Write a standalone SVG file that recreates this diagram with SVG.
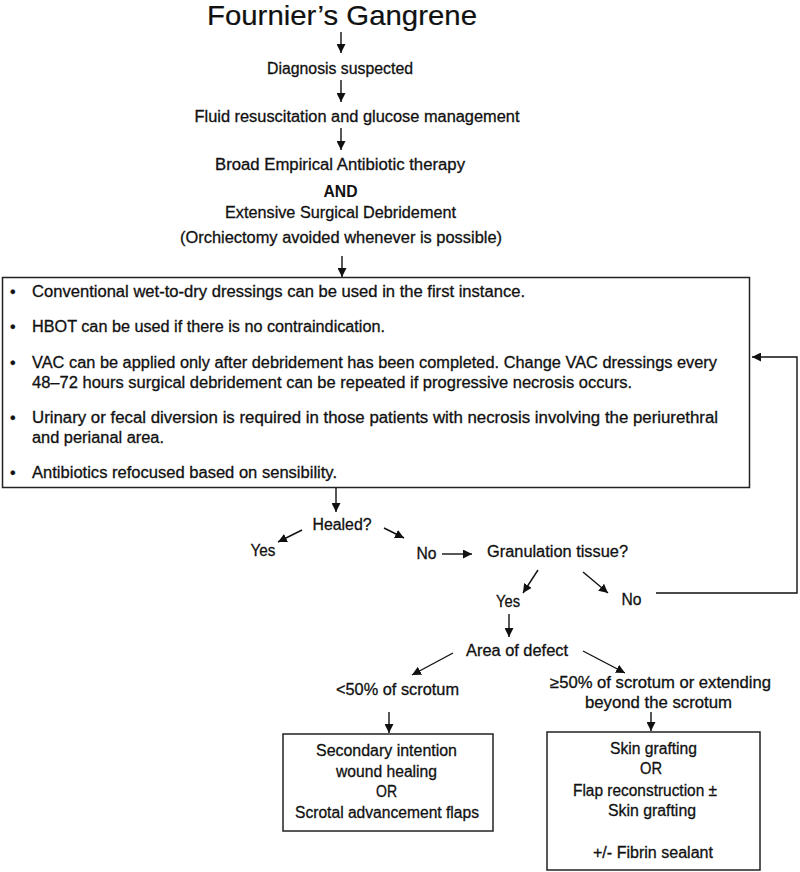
<svg xmlns="http://www.w3.org/2000/svg" width="800" height="872" viewBox="0 0 800 872">
<defs>
<marker id="ah" markerUnits="userSpaceOnUse" markerWidth="9" markerHeight="9" refX="9" refY="4.5" orient="auto" viewBox="0 0 9 9">
<path d="M0,0 L9,4.5 L0,9 z" fill="#111"/>
</marker>
<style>
text{font-family:"Liberation Sans",Arial,sans-serif;font-size:16px;fill:#111;stroke:#111;stroke-width:0.3;}
.c{text-anchor:middle;}
.t{font-size:28px;stroke-width:0.2;}
.b{font-weight:bold;stroke-width:0;}
.box{fill:#fff;stroke:#222;stroke-width:1.5;}
.cn line,.cn polyline{stroke:#111;stroke-width:1.4;fill:none;marker-end:url(#ah);}
</style>
</defs>
<rect width="800" height="872" fill="#fff"/>

<g id="title"><text class="c t" x="342" y="25" textLength="270" lengthAdjust="spacingAndGlyphs">Fournier’s Gangrene</text></g>
<g id="diagnosis"><text class="c" x="340" y="74" textLength="146" lengthAdjust="spacingAndGlyphs">Diagnosis suspected</text></g>
<g id="fluid"><text class="c" x="357" y="122" textLength="325" lengthAdjust="spacingAndGlyphs">Fluid resuscitation and glucose management</text></g>
<g id="treatment">
<text class="c" x="340" y="170" textLength="250" lengthAdjust="spacingAndGlyphs">Broad Empirical Antibiotic therapy</text>
<text class="c b" x="340.5" y="197" textLength="34" lengthAdjust="spacingAndGlyphs">AND</text>
<text class="c" x="340.5" y="218" textLength="231" lengthAdjust="spacingAndGlyphs">Extensive Surgical Debridement</text>
<text class="c" x="341" y="243" textLength="322" lengthAdjust="spacingAndGlyphs">(Orchiectomy avoided whenever is possible)</text>
</g>

<g id="care">
<rect class="box" x="2.5" y="277.5" width="747" height="210"/>
<text x="10" y="297">•</text>
<text x="32" y="297" textLength="493" lengthAdjust="spacingAndGlyphs">Conventional wet-to-dry dressings can be used in the first instance.</text>
<text x="10" y="332">•</text>
<text x="32" y="332" textLength="353" lengthAdjust="spacingAndGlyphs">HBOT can be used if there is no contraindication.</text>
<text x="10" y="368">•</text>
<text x="32" y="368" textLength="685" lengthAdjust="spacingAndGlyphs">VAC can be applied only after debridement has been completed. Change VAC dressings every</text>
<text x="32" y="388" textLength="600" lengthAdjust="spacingAndGlyphs">48–72 hours surgical debridement can be repeated if progressive necrosis occurs.</text>
<text x="10" y="423">•</text>
<text x="32" y="423" textLength="686" lengthAdjust="spacingAndGlyphs">Urinary or fecal diversion is required in those patients with necrosis involving the periurethral</text>
<text x="32" y="443" textLength="132" lengthAdjust="spacingAndGlyphs">and perianal area.</text>
<text x="10" y="478">•</text>
<text x="32" y="478" textLength="305" lengthAdjust="spacingAndGlyphs">Antibiotics refocused based on sensibility.</text>
</g>

<g id="healed"><text class="c" x="342" y="530" textLength="59" lengthAdjust="spacingAndGlyphs">Healed?</text></g>
<g id="healed-yes"><text class="c" x="263" y="556" textLength="25" lengthAdjust="spacingAndGlyphs">Yes</text></g>
<g id="healed-no"><text class="c" x="426.5" y="559" textLength="20" lengthAdjust="spacingAndGlyphs">No</text></g>
<g id="granulation"><text class="c" x="557.5" y="557" textLength="141" lengthAdjust="spacingAndGlyphs">Granulation tissue?</text></g>
<g id="gran-yes"><text class="c" x="508" y="607" textLength="24" lengthAdjust="spacingAndGlyphs">Yes</text></g>
<g id="gran-no"><text class="c" x="631.5" y="605" textLength="20" lengthAdjust="spacingAndGlyphs">No</text></g>
<g id="area"><text class="c" x="517" y="656" textLength="102" lengthAdjust="spacingAndGlyphs">Area of defect</text></g>
<g id="small"><text class="c" x="397.5" y="695" textLength="123" lengthAdjust="spacingAndGlyphs">&lt;50% of scrotum</text></g>
<g id="large">
<text class="c" x="660.5" y="688" textLength="221" lengthAdjust="spacingAndGlyphs">≥50% of scrotum or extending</text>
<text class="c" x="658.5" y="708" textLength="147" lengthAdjust="spacingAndGlyphs">beyond the scrotum</text>
</g>

<g id="small-treatment">
<rect class="box" x="283" y="734" width="210" height="97"/>
<text class="c" x="386.5" y="756" textLength="141" lengthAdjust="spacingAndGlyphs">Secondary intention</text>
<text class="c" x="386.5" y="777" textLength="101" lengthAdjust="spacingAndGlyphs">wound healing</text>
<text class="c" x="386.5" y="797" textLength="21" lengthAdjust="spacingAndGlyphs">OR</text>
<text class="c" x="387" y="818" textLength="184" lengthAdjust="spacingAndGlyphs">Scrotal advancement flaps</text>
</g>

<g id="large-treatment">
<rect class="box" x="547" y="732" width="213" height="138"/>
<text class="c" x="653.5" y="754" textLength="87" lengthAdjust="spacingAndGlyphs">Skin grafting</text>
<text class="c" x="651" y="774" textLength="22" lengthAdjust="spacingAndGlyphs">OR</text>
<text class="c" x="645" y="796" textLength="144" lengthAdjust="spacingAndGlyphs">Flap reconstruction ±</text>
<text class="c" x="652" y="816" textLength="88" lengthAdjust="spacingAndGlyphs">Skin grafting</text>
<text class="c" x="653" y="858" textLength="120" lengthAdjust="spacingAndGlyphs">+/- Fibrin sealant</text>
</g>

<g id="connectors" class="cn">
<line x1="341" y1="32" x2="341" y2="53"/>
<line x1="341" y1="80" x2="341" y2="102"/>
<line x1="341" y1="128" x2="341" y2="150"/>
<line x1="342" y1="256" x2="342" y2="277"/>
<line x1="336" y1="488" x2="336" y2="512"/>
<line x1="302" y1="530" x2="278" y2="542"/>
<line x1="384" y1="528" x2="404" y2="538"/>
<line x1="442" y1="554" x2="472" y2="554"/>
<line x1="538" y1="570" x2="523" y2="593"/>
<line x1="583" y1="572" x2="608" y2="593"/>
<polyline points="656,593 797,593 797,357 752,357"/>
<line x1="509" y1="614" x2="509" y2="637"/>
<line x1="453" y1="653" x2="412" y2="675"/>
<line x1="583" y1="651" x2="625" y2="673"/>
<line x1="389" y1="712" x2="389" y2="733"/>
<line x1="651" y1="712" x2="651" y2="731"/>
</g>
</svg>
